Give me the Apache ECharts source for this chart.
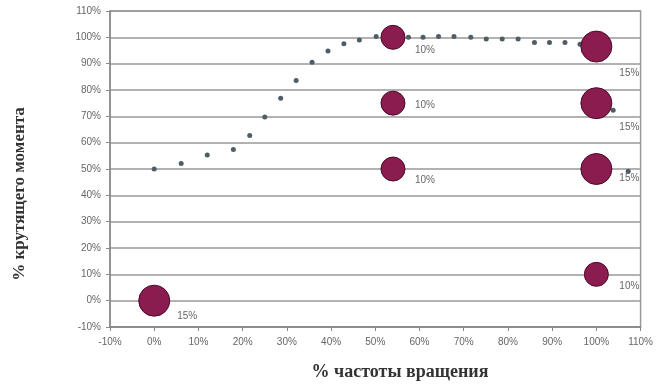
<!DOCTYPE html>
<html>
<head>
<meta charset="utf-8">
<script src="https://cdn.jsdelivr.net/npm/echarts@6/dist/echarts.min.js"></script>
<style>
html,body{margin:0;padding:0;background:#fff;}
#chart{width:656px;height:384px;}
</style>
</head>
<body>
<div id="chart"></div>
<script>
// ---- data ----
var xTitle = '% частоты вращения';
var yTitle = '% крутящего момента';

var curveX = [0, 6.1, 12.0, 17.9, 21.6, 25.0, 28.6, 32.1, 35.7, 39.3, 42.9, 46.4, 50.2, 53.8, 57.5, 60.8, 64.3, 67.8, 71.6, 75.1, 78.7, 82.3, 86.0, 89.4, 92.9, 96.3, 100.0, 103.8, 107.2];
var curveY = [50, 52.1, 55.3, 57.4, 62.7, 69.7, 76.9, 83.6, 90.5, 94.8, 97.6, 99.0, 100.3, 100.5, 100.0, 100.0, 100.3, 100.3, 100.0, 99.4, 99.4, 99.4, 98.0, 98.0, 98.0, 97.4, 97.0, 72.3, 49.1];

var bubbleX = [0, 54, 54, 54, 100, 100, 100, 100];
var bubbleY = [0, 100, 75, 50, 96.5, 75, 50, 10];
var bubbleSize = [15, 10, 10, 10, 15, 15, 15, 10];

// ---- style (label placement relative to bubble centre, px) ----
var labelShift = [[23, 16], [22, 13], [22, 2], [22, 11], [23, 27], [23, 24], [23, 9], [23, 12]];

var curveData = curveX.map(function (x, i) { return [x, curveY[i]]; });
var bubbleData = bubbleX.map(function (x, i) {
  return {
    value: [x, bubbleY[i], bubbleSize[i]],
    label: { offset: labelShift[i] }
  };
});

var chart = echarts.init(document.getElementById('chart'), null, { renderer: 'canvas' });
var axisLabel = { color: '#666', fontSize: 10, fontFamily: 'Liberation Sans, Arial, sans-serif' };

chart.setOption({
  animation: false,
  backgroundColor: '#fff',
  grid: { left: 110, right: 13, top: 11, bottom: 57, show: true, borderColor: '#999', borderWidth: 1.5 },
  xAxis: {
    type: 'value', min: -10, max: 110, interval: 10,
    axisLine: { show: true, onZero: false, lineStyle: { color: '#888', width: 1.5 } },
    axisTick: { show: true, length: 4, lineStyle: { color: '#888' } },
    splitLine: { show: false },
    axisLabel: Object.assign({ margin: 10, formatter: '{value}%' }, axisLabel)
  },
  yAxis: {
    type: 'value', min: -10, max: 110, interval: 10,
    axisLine: { show: true, onZero: false, lineStyle: { color: '#888', width: 1.5 } },
    axisTick: { show: true, length: 4, lineStyle: { color: '#888' } },
    splitLine: { show: true, lineStyle: { color: '#999', width: 1.5 } },
    axisLabel: Object.assign({ margin: 9, formatter: '{value}%' }, axisLabel)
  },
  graphic: [
    {
      type: 'text',
      x: 400, y: 372,
      style: { text: xTitle, fill: '#333', font: 'bold 18px "Liberation Serif", "DejaVu Serif", serif', textAlign: 'center', textVerticalAlign: 'middle' }
    },
    {
      type: 'text',
      x: 20, y: 194,
      rotation: Math.PI / 2,
      style: { text: yTitle, fill: '#333', font: 'bold 17px "Liberation Serif", "DejaVu Serif", serif', textAlign: 'center', textVerticalAlign: 'middle' }
    }
  ],
  series: [
    {
      type: 'scatter',
      data: curveData,
      symbolSize: 5,
      itemStyle: { color: '#4f5d66', opacity: 1 },
      z: 2
    },
    {
      type: 'scatter',
      data: bubbleData,
      symbolSize: function (v) { return v[2] === 15 ? 31 : 24; },
      itemStyle: { color: '#8a1c4f', borderColor: '#4a0b28', borderWidth: 1, opacity: 1 },
      label: {
        show: true, position: 'inside', align: 'left', verticalAlign: 'middle',
        formatter: function (p) { return p.value[2] + '%'; },
        color: '#666', fontSize: 10, fontFamily: 'Liberation Sans, Arial, sans-serif'
      },
      z: 3
    }
  ]
});
</script>
</body>
</html>
